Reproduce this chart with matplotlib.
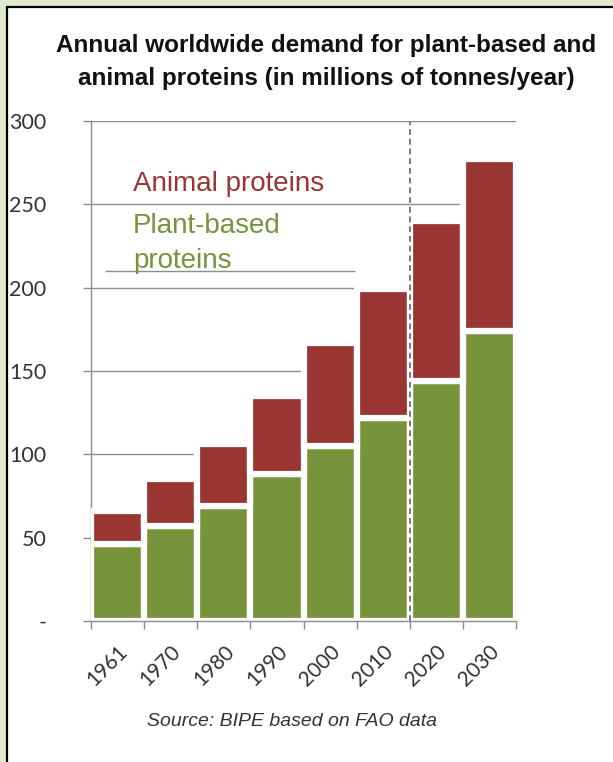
import matplotlib.pyplot as plt
from matplotlib.patches import Rectangle

# donnees (millions de tonnes / an)
years = ["1961", "1970", "1980", "1990", "2000", "2010", "2020", "2030"]
plant = [46, 57, 69, 88, 105, 122, 144, 174]
total = [66, 85, 106, 135, 167, 199, 240, 277]
animal = [t - p for t, p in zip(total, plant)]
yticks = [0, 50, 100, 150, 200, 250, 300]
ylabels = ["-", "50", "100", "150", "200", "250", "300"]

green = "#77933c"
red = "#993533"
grid_c = "#8c8c8c"

fig = plt.figure(figsize=(6.13, 7.62), dpi=100)
fig.patch.set_facecolor("#e1e9d0")
# panneau blanc avec bord noir (coupe a droite et en bas)
fig.patches.append(Rectangle((7 / 613, -0.01), 1.0, 1 - 7 / 762 + 0.01,
                             transform=fig.transFigure, facecolor="white",
                             edgecolor="black", linewidth=1.6, zorder=-5))

ax = fig.add_axes([91 / 613, 1 - 621 / 762, (516 - 91) / 613, (621 - 121) / 762])
ax.set_facecolor("white")

x = list(range(len(years)))
ax.bar(x, plant, width=1.0, color=green, edgecolor="white", linewidth=4.5, zorder=3)
ax.bar(x, animal, bottom=plant, width=1.0, color=red, edgecolor="white", linewidth=4.5, zorder=3)

ax.set_xlim(-0.5, len(years) - 0.5)
ax.set_ylim(0, 300)

ax.set_yticks(yticks)
ax.set_yticklabels(ylabels, family="Lato", fontsize=15.5, color="#333333")
ax.yaxis.grid(True, color=grid_c, linewidth=1.0, zorder=0)
ax.set_axisbelow(True)
ax.tick_params(axis="y", length=6, width=1, color=grid_c, pad=26)

ax.set_xticks([i - 0.5 for i in range(len(years) + 1)], minor=False)
ax.set_xticklabels([])
ax.set_xticks(x, minor=True)
ax.set_xticklabels(years, minor=True, rotation=45, ha="right", va="top",
                   rotation_mode="anchor", family="Lato", fontsize=15, color="#333333")
ax.tick_params(axis="x", which="major", length=6, width=1, color=grid_c)
ax.tick_params(axis="x", which="minor", length=0, pad=15)

for s in ["top", "right"]:
    ax.spines[s].set_visible(False)
for s in ["left", "bottom"]:
    ax.spines[s].set_color(grid_c)
    ax.spines[s].set_linewidth(1.0)
ax.spines["bottom"].set_zorder(4)

# separation historique / projection
ax.axvline(5.5, color="#7a7a7a", linestyle=(0, (3, 2)), linewidth=1.4, zorder=4)

# legende dans le graphique
ax.hlines(210, -0.24, 4.47, color=grid_c, linewidth=1.0, zorder=1)
ax.text(0.29, 262, "Animal proteins", color=red, fontsize=20, family="Liberation Sans", va="center", zorder=5)
ax.text(0.29, 237, "Plant-based", color=green, fontsize=20, family="Liberation Sans", va="center", zorder=5)
ax.text(0.29, 216, "proteins", color=green, fontsize=20, family="Liberation Sans", va="center", zorder=5)

fig.text(326 / 613, 1 - 62 / 762,
         "Annual worldwide demand for plant-based and\nanimal proteins (in millions of tonnes/year)",
         ha="center", va="center", fontsize=17.5, fontweight="bold",
         family="Liberation Sans", linespacing=1.55, color="#111111")
fig.text(292 / 613, 1 - 722 / 762, "Source: BIPE based on FAO data", ha="center", va="center",
         fontsize=14, style="italic", family="Liberation Sans", color="#333333")

fig.savefig("out.png", dpi=100, facecolor=fig.get_facecolor())
